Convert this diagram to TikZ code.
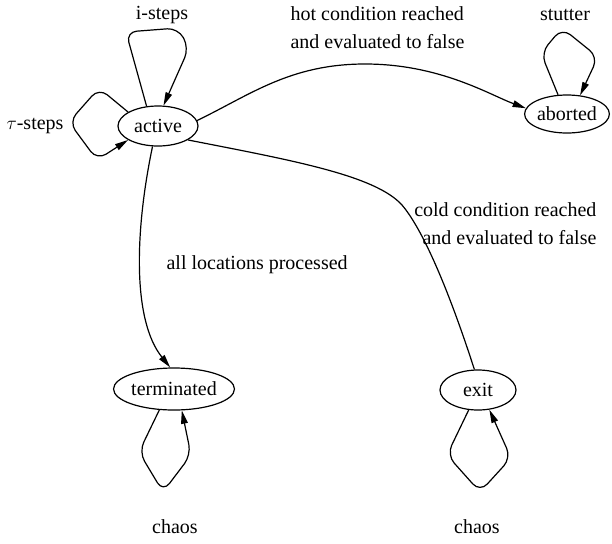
\documentclass[tikz,border=0pt]{standalone}
\usepackage{fontspec}
\setmainfont{Liberation Serif}
\usetikzlibrary{shapes.geometric,arrows.meta}
\tikzset{every picture/.style={line width=0.9pt}}
\tikzset{
  stnode/.style={draw,ellipse,inner sep=0pt,font=\fontsize{15}{21}\selectfont},
  lbl/.style={inner sep=0.75pt,font=\fontsize{15}{21}\selectfont},
  trans/.style={-{Triangle[length=10pt,width=5pt]}},
  selfloop/.style={trans,rounded corners=8pt},
}

\begin{document}
\begin{tikzpicture}[x=0.75pt,y=0.75pt,yscale=-1,xscale=1]
    \useasboundingbox (0,0) rectangle (612,544);

    %States
    \node [stnode,minimum width=60pt,minimum height=30pt] (active) at (158,126) {active};
    \node [stnode,minimum width=49.5pt,minimum height=28.5pt] (aborted) at (567,114) {aborted};
    \node [stnode,minimum width=88.5pt,minimum height=31.5pt] (terminated) at (174,389) {terminated};
    \node [stnode,minimum width=57pt,minimum height=30pt] (exit) at (478,390) {exit};

    %Self loops
    \draw [selfloop] (active.120) -- (126,32) -- (178,28) -- (189,48) -- (active.75);
    \draw [selfloop] (active.155) -- (99,88) -- (69,122) -- (97,160) -- (active.205);
    \draw [selfloop] (aborted.115) -- (541,53) -- (562,28) -- (598,57) -- (aborted.55);
    \draw [selfloop] (terminated.235) -- (139,452) -- (163,492) -- (191,455) -- (terminated.290);
    \draw [selfloop] (exit.245) -- (447,455) -- (480,492) -- (511,458) -- (exit.300);

    %Transitions
    \draw [trans] (active.8) .. controls (250,95) and (290,64) .. (365,64) .. controls (440,64) and (490,95) .. (aborted.172);
    \draw (active.335) .. controls (290,160) and (375,175) .. (402,205) .. controls (425,232) and (452,300) .. (exit.100);
    \draw [trans] (active.255) .. controls (135,230) and (132,320) .. (terminated.100);

    % Text Nodes
    \node [lbl] (isteps) at (162,15) {i-steps};
    \node [lbl] (tausteps) at (35,126) {$\tau$-steps};
    \node [lbl] (stutter) at (565,15) {stutter};
    \node [lbl] (chaosterm) at (175,527) {chaos};
    \node [lbl] (chaosexit) at (477,527) {chaos};
    \node [lbl,anchor=west,align=left] (hotcond) at (289,28) {hot condition reached\\and evaluated to false};
    \node [lbl,anchor=east,align=right] (coldcond) at (598,223.5) {cold condition reached\\and evaluated to false};
    \node [lbl,anchor=west] (alllocs) at (165,265) {all locations processed};

\end{tikzpicture}
\end{document}
